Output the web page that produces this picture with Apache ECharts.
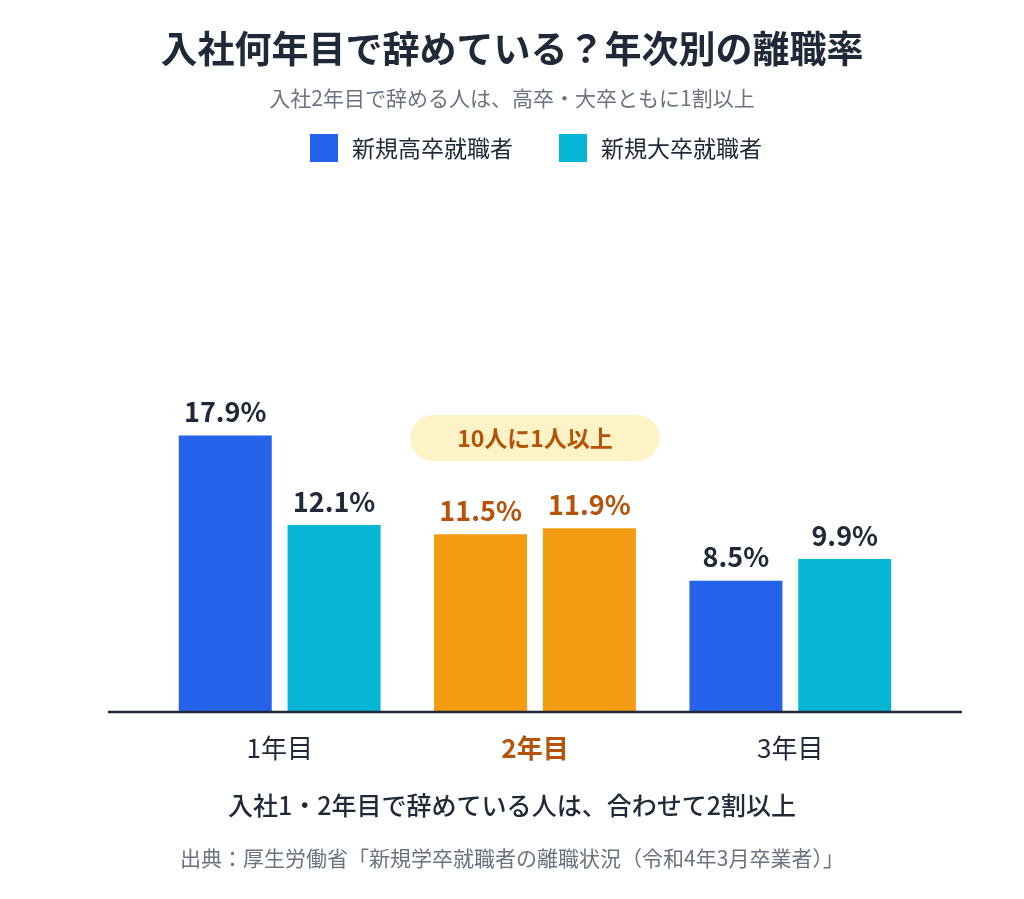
<!DOCTYPE html>
<html>
<head>
<meta charset="utf-8">
<script src="https://cdn.jsdelivr.net/npm/echarts@6/dist/echarts.min.js"></script>
<style>
html,body{margin:0;padding:0;background:#fff;}
#chart{width:1024px;height:899px;}
</style>
</head>
<body>
<div id="chart"></div>
<script>
const categories = ['1年目', '2年目', '3年目'];
const highSchool = [17.9, 11.5, 8.5];
const university = [12.1, 11.9, 9.9];
const seriesNames = ['新規高卒就職者', '新規大卒就職者'];
const highlightIndex = 1;

const FONT = '"Noto Sans CJK JP", "Noto Sans", sans-serif';
const BLUE = '#2563EB';
const CYAN = '#06B6D4';
const ORANGE = '#F39C12';
const ORANGE_TEXT = '#B45309';
const DARK = '#1F2937';
const GRAY = '#6B7280';

function makeData(values, color) {
  return values.map((v, i) => ({
    value: v,
    itemStyle: { color: i === highlightIndex ? ORANGE : color },
    label: { color: i === highlightIndex ? ORANGE_TEXT : DARK }
  }));
}

const chart = echarts.init(document.getElementById('chart'), null, { renderer: 'canvas' });
const labelCfg = {
  show: true,
  position: 'top',
  distance: 10,
  fontSize: 27,
  fontWeight: 'bold',
  fontFamily: FONT,
  formatter: p => p.value.toFixed(1) + '%'
};

chart.setOption({
  animation: false,
  backgroundColor: '#fff',
  title: [
    { text: '入社何年目で辞めている？年次別の離職率', left: 'center', top: 25,
      textStyle: { fontSize: 37, fontWeight: 'bold', color: DARK, fontFamily: FONT } },
    { text: '入社2年目で辞める人は、高卒・大卒ともに1割以上', left: 'center', top: 83,
      textStyle: { fontSize: 21, fontWeight: 'normal', color: GRAY, fontFamily: FONT } },
    { text: '入社1・2年目で辞めている人は、合わせて2割以上', left: 'center', top: 788,
      textStyle: { fontSize: 25, fontWeight: 500, color: DARK, fontFamily: FONT } },
    { text: '出典：厚生労働省「新規学卒就職者の離職状況（令和4年3月卒業者）」', left: 'center', top: 843,
      textStyle: { fontSize: 21, fontWeight: 'normal', color: GRAY, fontFamily: FONT } }
  ],
  legend: {
    top: 129, left: 305, icon: 'rect', itemWidth: 28, itemHeight: 28, itemGap: 46,
    textStyle: { fontSize: 23, color: DARK, fontFamily: FONT, padding: [0, 0, 0, 9] },
    data: seriesNames
  },
  grid: { left: 152, right: 106, top: 403, bottom: 187, containLabel: false },
  xAxis: {
    type: 'category', data: categories,
    axisLine: { show: false }, axisTick: { show: false },
    axisLabel: {
      margin: 23, fontSize: 26, fontFamily: FONT, color: DARK,
      formatter: (v, i) => i === highlightIndex ? '{h|' + v + '}' : v,
      rich: { h: { fontSize: 26, fontWeight: 'bold', color: ORANGE_TEXT, fontFamily: FONT } }
    }
  },
  yAxis: { type: 'value', min: 0, max: 20, show: false, splitLine: { show: false } },
  series: [
    { name: seriesNames[0], type: 'bar', barWidth: 93, barGap: '17%', color: BLUE,
      data: makeData(highSchool, BLUE), label: labelCfg },
    { name: seriesNames[1], type: 'bar', barWidth: 93, barGap: '17%', color: CYAN,
      data: makeData(university, CYAN), label: labelCfg }
  ]
});

const base = chart.convertToPixel({ gridIndex: 0 }, [0, 0]);
const mid = chart.convertToPixel({ xAxisIndex: 0, yAxisIndex: 0 }, [highlightIndex, 0]);
chart.setOption({
  graphic: [
    { type: 'line', shape: { x1: 108, y1: base[1], x2: 962, y2: base[1] },
      style: { stroke: DARK, lineWidth: 2.5 }, z: 10 },
    { type: 'text', x: mid[0], y: 438,
      style: { text: '10人に1人以上', align: 'center', verticalAlign: 'middle',
        fontSize: 23, lineHeight: 24, fontWeight: 'bold', fill: ORANGE_TEXT, fontFamily: FONT,
        backgroundColor: '#FEF3C7', padding: [11, 47, 11, 47], borderRadius: 23 } }
  ]
});
</script>
</body>
</html>
